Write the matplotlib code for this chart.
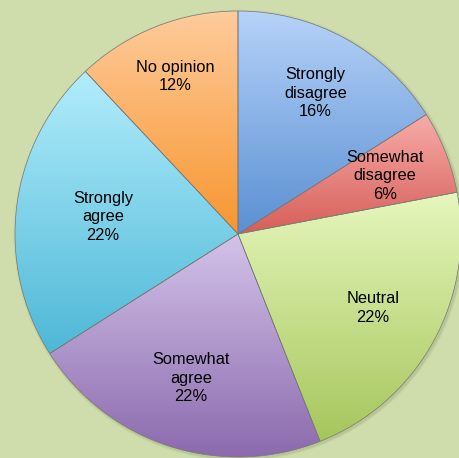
import numpy as np
import matplotlib
matplotlib.use("Agg")
import matplotlib.pyplot as plt
from matplotlib.colors import LinearSegmentedColormap

plt.rcParams['font.family'] = ['Liberation Sans', 'DejaVu Sans']

# data, clockwise from 12 o'clock
labels = ["Strongly\ndisagree", "Somewhat\ndisagree", "Neutral",
          "Somewhat\nagree", "Strongly\nagree", "No opinion"]
values = [16, 6, 22, 22, 22, 12]
tops = ["#b6d2f9", "#f8aca9", "#e6f7bd", "#d3c3e8", "#b2edfc", "#fecb9b"]
bottoms = ["#5a90d2", "#d65e58", "#a6c65c", "#8b6aae", "#4eb8d6", "#f8962f"]
label_dist = [0.72, 0.71, 0.69, 0.68, 0.61, 0.76]

bg = "#cfdcab"
W, H = 460, 458
cx, cy, R = 238, 234, 223

fig = plt.figure(figsize=(W / 100, H / 100), dpi=100, facecolor=bg)
ax = fig.add_axes([0, 0, 1, 1])
ax.set_facecolor(bg)

# soft shadow behind the pie
for k, a in [(1.012, 0.10), (1.006, 0.18)]:
    ax.add_patch(plt.Circle((0.006, -0.006), k, color="#7a8a60", alpha=a, lw=0, zorder=0))

wedges, texts = ax.pie(values, startangle=90, counterclock=False, radius=1,
                       center=(0, 0), labels=None, frame=True,
                       wedgeprops=dict(edgecolor="#777777", linewidth=0.5))

for w, c1, c2 in zip(wedges, tops, bottoms):
    w.set_facecolor("none")
    w.set_zorder(3)
    ext = w.get_path().get_extents()
    cmap = LinearSegmentedColormap.from_list("g", [c2, c1])
    grad = np.linspace(0, 1, 256).reshape(-1, 1)
    im = ax.imshow(grad, cmap=cmap, origin="lower", aspect="auto",
                   extent=[ext.x0, ext.x1, ext.y0, ext.y1], zorder=2)
    im.set_clip_path(w)

ax.set_xlim(-cx / R, (W - cx) / R)
ax.set_ylim(-(H - cy) / R, cy / R)
ax.set_aspect("auto")
ax.axis("off")

total = sum(values)
ang = 90.0
for lab, v, d in zip(labels, values, label_dist):
    span = 360.0 * v / total
    mid = np.deg2rad(ang - span / 2)
    ang -= span
    ax.text(d * np.cos(mid), d * np.sin(mid), f"{lab}\n{round(100 * v / total)}%",
            ha="center", va="center", fontsize=11.8, color="#000000",
            linespacing=1.28, zorder=5)

fig.savefig("out.png", dpi=100, facecolor=bg)
